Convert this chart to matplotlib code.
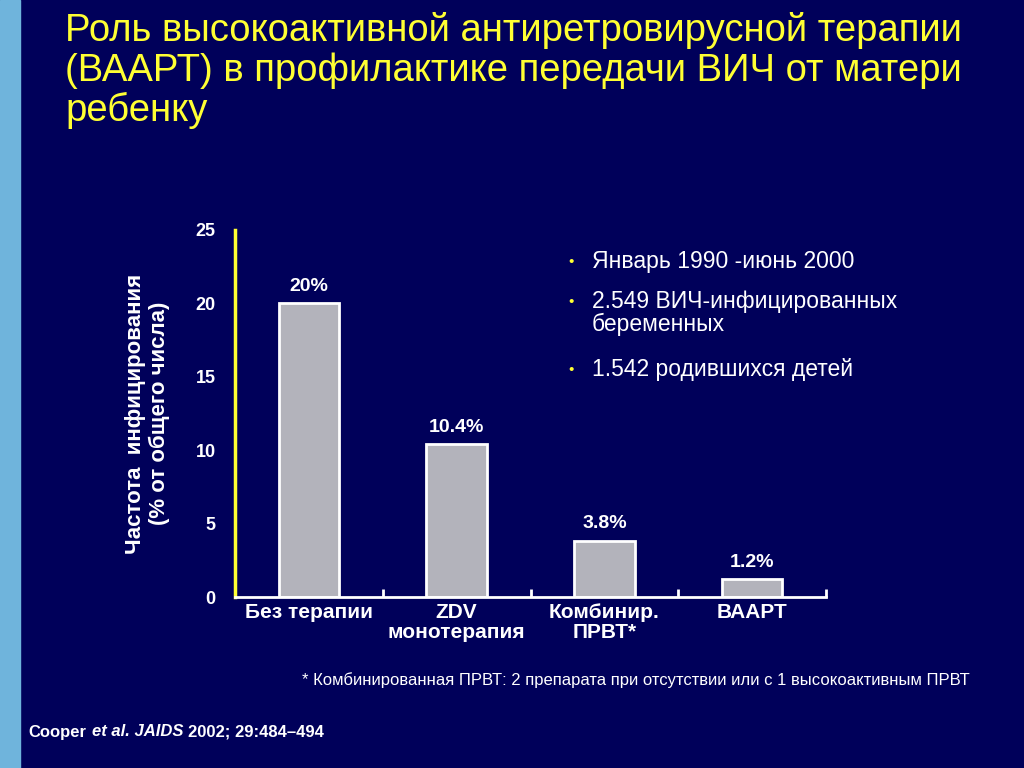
import matplotlib.pyplot as plt
from matplotlib.patches import Rectangle

# ---------- данные ----------
categories = ["Без терапии", "ZDV\nмонотерапия", "Комбинир.\nПРВТ*", "ВААРТ"]
values = [20, 10.4, 3.8, 1.2]
value_labels = ["20%", "10.4%", "3.8%", "1.2%"]
yticks = [0, 5, 10, 15, 20, 25]
bullets = ["Январь 1990 -июнь 2000",
           "2.549 ВИЧ-инфицированных\nбеременных",
           "1.542 родившихся детей"]
# ---------------------------

BG = "#00005a"
YEL = "#ffff33"
plt.rcParams["font.family"] = "Liberation Sans"

fig = plt.figure(figsize=(10.24, 7.68), dpi=100, facecolor=BG)
fig.patches.append(Rectangle((0, 0), 20 / 1024, 1, transform=fig.transFigure,
                             color="#6fb4dc", zorder=0))

fig.text(65 / 1024, 1 - 12 / 768,
         "Роль высокоактивной антиретровирусной терапии\n(ВААРТ) в профилактике передачи ВИЧ от матери\nребенку",
         color=YEL, fontsize=27.5, va="top", ha="left", linespacing=1.12)

ax = fig.add_axes([235 / 1024, 171 / 768, 591 / 1024, 367 / 768])
ax.set_facecolor(BG)
x = list(range(len(values)))
ax.bar(x, values, width=0.41, color="#b3b3bb", edgecolor="white", linewidth=2)
for xi, v, lab in zip(x, values, value_labels):
    ax.text(xi, v + 0.6, lab, color="white", fontsize=14, fontweight="bold",
            ha="center", va="bottom")
ax.set_xlim(-0.5, len(values) - 0.5)
ax.set_ylim(0, 25)
ax.set_yticks(yticks)
ax.set_yticklabels([str(t) for t in yticks], color="white", fontsize=13, fontweight="bold")
ax.tick_params(axis="y", length=0, pad=14)
ax.set_xticks([i + 0.5 for i in x])
ax.set_xticklabels([])
ax.tick_params(axis="x", direction="in", length=6, width=2, color="white", bottom=True)
for s in ["top", "right"]:
    ax.spines[s].set_visible(False)
ax.spines["left"].set_color(YEL)
ax.spines["left"].set_linewidth(2.5)
ax.spines["bottom"].set_color("white")
ax.spines["bottom"].set_linewidth(2)
for xi, c in zip(x, categories):
    ax.text(xi, -0.4, c, transform=ax.transData, color="white", fontsize=15,
            fontweight="bold", ha="center", va="top", linespacing=1.1)

ax.set_ylabel("Частота  инфицирования\n(% от общего числа)", color="white",
              fontsize=16, fontweight="bold", labelpad=18, linespacing=1.2)

by = [1 - 262 / 768, 1 - 302 / 768, 1 - 370 / 768]
for y, b in zip(by, bullets):
    fig.text(568 / 1024, y, "•", color=YEL, fontsize=11, va="center")
    fig.text(592 / 1024, y + 0.016, b, color="white", fontsize=16.5, va="top",
             linespacing=1.0)

fig.text(970 / 1024, 1 - 680 / 768,
         "* Комбинированная ПРВТ: 2 препарата при отсутствии или с 1 высокоактивным ПРВТ",
         color="white", fontsize=12, ha="right", va="center")
fig.text(28 / 1024, 1 - 732 / 768, "Cooper", color="white",
         fontsize=12, fontweight="bold", va="center")
fig.text(92 / 1024, 1 - 732 / 768, "et al. JAIDS", color="white",
         fontsize=12, fontweight="bold", fontstyle="italic", va="center")
fig.text(188 / 1024, 1 - 732 / 768, "2002; 29:484–494", color="white",
         fontsize=12, fontweight="bold", va="center")

fig.savefig("out.png", dpi=100, facecolor=BG)
